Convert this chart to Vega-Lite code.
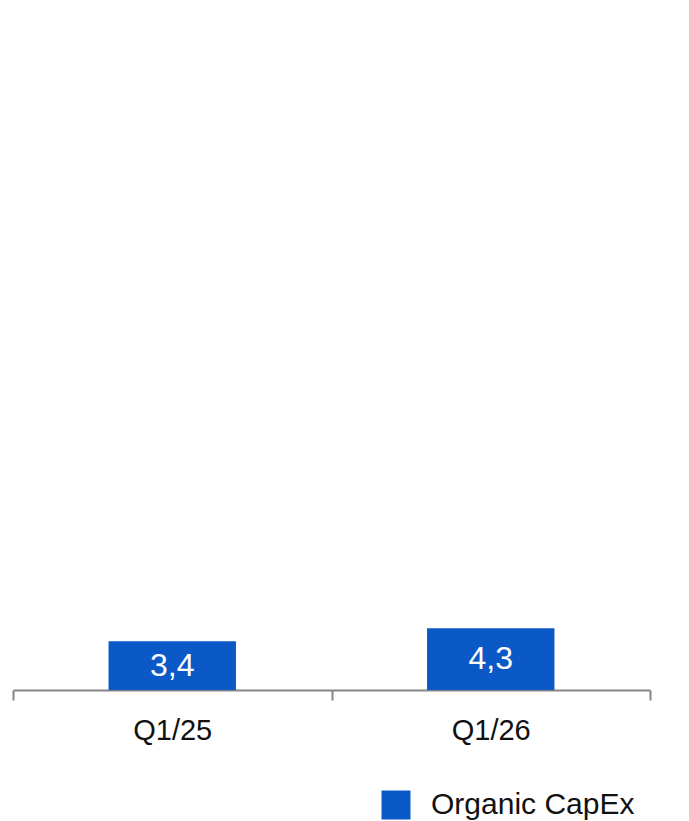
{
  "$schema": "https://vega.github.io/schema/vega-lite/v6.json",
  "width": 637,
  "height": 690,
  "autosize": {"type": "none"},
  "padding": {"left": 13, "top": 0, "right": 39, "bottom": 131},
  "background": "white",
  "config": {
    "view": {"stroke": null},
    "font": "Liberation Sans"
  },
  "data": {
    "values": [
      {"quarter": "Q1/25", "series": "Organic CapEx", "value": 3.4, "label": "3,4"},
      {"quarter": "Q1/26", "series": "Organic CapEx", "value": 4.3, "label": "4,3"}
    ]
  },
  "encoding": {
    "x": {
      "field": "quarter",
      "type": "nominal",
      "sort": null,
      "scale": {"paddingInner": 0, "paddingOuter": 0},
      "axis": {
        "title": null,
        "labelAngle": 0,
        "labelFontSize": 29,
        "labelColor": "#111111",
        "labelPadding": 16,
        "domainColor": "#858585",
        "domainWidth": 2,
        "tickColor": "#858585",
        "tickWidth": 2,
        "tickSize": 10,
        "tickBand": "extent",
        "grid": false
      }
    }
  },
  "layer": [
    {
      "mark": {"type": "bar", "width": {"band": 0.4}, "color": "#0a59c6"},
      "encoding": {
        "y": {
          "field": "value",
          "type": "quantitative",
          "scale": {"domain": [0, 48]},
          "axis": null
        },
        "color": {
          "field": "series",
          "type": "nominal",
          "scale": {"range": ["#0a59c6"]},
          "legend": {
            "title": null,
            "orient": "none",
            "legendX": 368,
            "legendY": 790,
            "symbolType": "square",
            "symbolSize": 840,
            "symbolStrokeWidth": 0,
            "labelFontSize": 30,
            "labelColor": "#111111",
            "labelOffset": 20,
            "labelLimit": 0,
            "padding": 0
          }
        }
      }
    },
    {
      "mark": {"type": "text", "baseline": "middle", "fontSize": 32, "color": "white"},
      "encoding": {
        "y": {
          "field": "value",
          "type": "quantitative",
          "scale": {"domain": [0, 96]},
          "axis": null
        },
        "text": {"field": "label"}
      }
    }
  ],
  "resolve": {"scale": {"y": "independent"}}
}
